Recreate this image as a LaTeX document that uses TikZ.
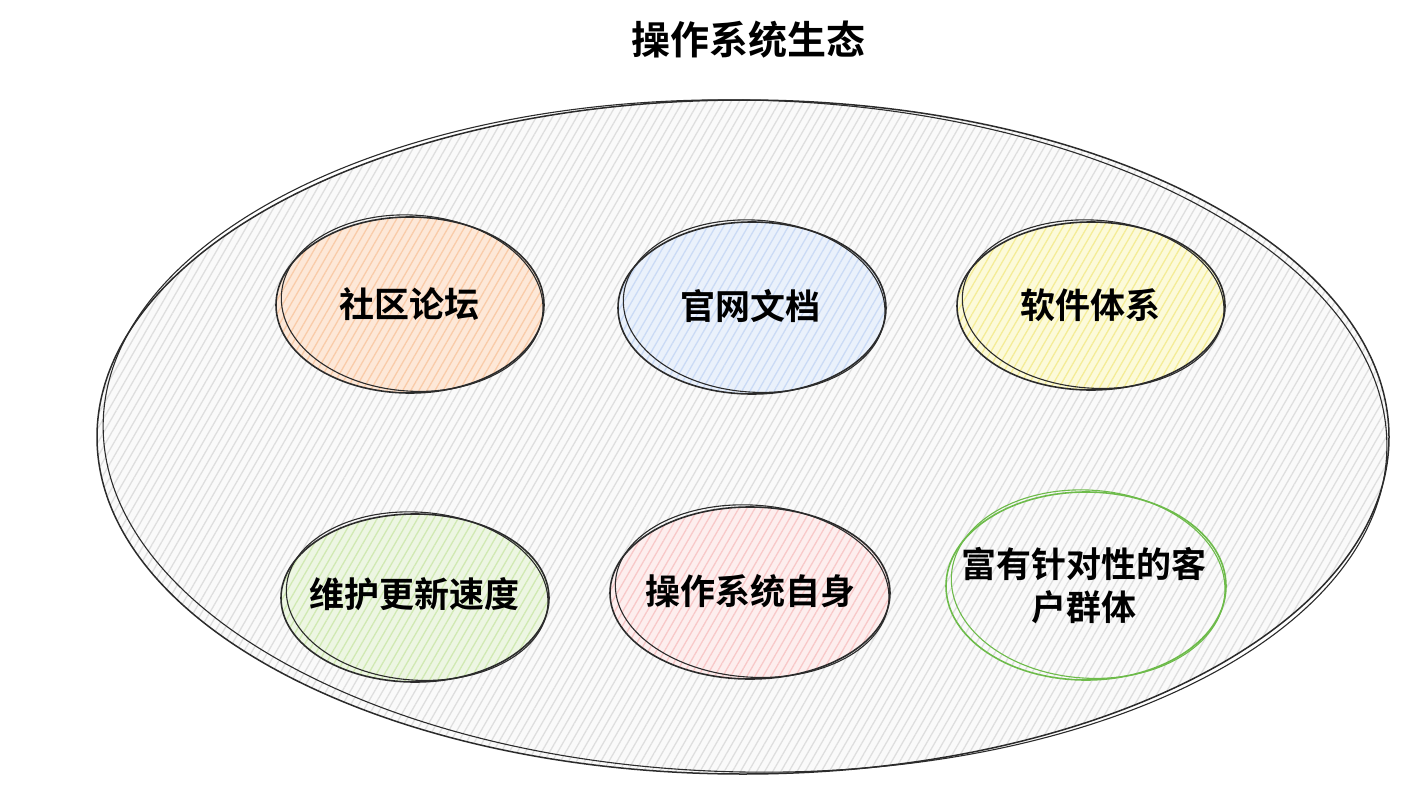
\documentclass[tikz,border=0pt]{standalone}
\usepackage{fontspec}
\newfontfamily\cjk{Noto Sans CJK SC Bold}
\newfontfamily\cjkb{Noto Sans CJK SC Bold}
\usetikzlibrary{patterns.meta}
\definecolor{ink}{HTML}{2B2B2B}
\definecolor{hatchgray}{HTML}{DEDEDE}
\definecolor{fOrange}{HTML}{FDE8D8}
\definecolor{hOrange}{HTML}{F9CBA8}
\definecolor{fBlue}{HTML}{EAF1FB}
\definecolor{hBlue}{HTML}{CADAF5}
\definecolor{fYellow}{HTML}{FCFADA}
\definecolor{hYellow}{HTML}{F4EC96}
\definecolor{fGreen}{HTML}{EDF6E3}
\definecolor{hGreen}{HTML}{D0E9B2}
\definecolor{fPink}{HTML}{FDEEEE}
\definecolor{hPink}{HTML}{F8C8C8}
\definecolor{gstroke}{HTML}{6DBB4A}
\tikzset{
  x=1pt, y=-1pt,
  lbl/.style={font=\cjk\fontsize{35}{43}\selectfont, text=black, align=center},
  hatch/.style={pattern={Lines[angle=60,distance=7pt,line width=1.3pt]}, pattern color=#1},
  sketch/.style={draw=ink, line width=1.5pt},
}
\begin{document}
\begin{tikzpicture}
\useasboundingbox (0,0) rectangle (1428,808);
\fill[white] (0,0) rectangle (1428,808);
% title
\node[font=\cjkb\fontsize{39}{44}\selectfont] (title) at (748,40) {操作系统生态};
% big ellipse
\fill[white!98!black] (743,437) ellipse [x radius=646, y radius=337];
\fill[hatch=hatchgray] (743,437) ellipse [x radius=646, y radius=337];
\draw[sketch] (743,437) ellipse [x radius=646, y radius=337];
\draw[sketch, line width=1.1pt, rotate around={-1.2:(745,437)}] (745,436) ellipse [x radius=642, y radius=336];
% small bubbles: centre, rx, ry, fill, hatch, stroke
\newcommand{\bub}[6]{%
  \fill[#4] #1 ellipse [x radius=#2, y radius=#3];
  \fill[hatch=#5] #1 ellipse [x radius=#2, y radius=#3];
  \draw[#6, line width=1.6pt] #1 ellipse [x radius=#2, y radius=#3];
  \draw[#6, line width=1.1pt, rotate around={-4:#1}] #1 ++(2,-2) ellipse [x radius=#2-3, y radius=#3];
}
\bub{(410,305)}{134}{88}{fOrange}{hOrange}{ink}
\bub{(752,308)}{134}{86}{fBlue}{hBlue}{ink}
\bub{(1091,306)}{134}{84}{fYellow}{hYellow}{ink}
\bub{(415,598)}{134}{84}{fGreen}{hGreen}{ink}
\bub{(750,593)}{140}{86}{fPink}{hPink}{ink}
\bub{(1086,586)}{140}{94}{white!98!black}{hatchgray}{gstroke}
\node[lbl] (n1) at (409,304) {社区论坛};
\node[lbl] (n2) at (750,306) {官网文档};
\node[lbl] (n3) at (1090,305) {软件体系};
\node[lbl] (n4) at (414,594) {维护更新速度};
\node[lbl] (n5) at (750,591) {操作系统自身};
\node[lbl] (n6) at (1084,586) {富有针对性的客\\户群体};
\end{tikzpicture}
\end{document}
